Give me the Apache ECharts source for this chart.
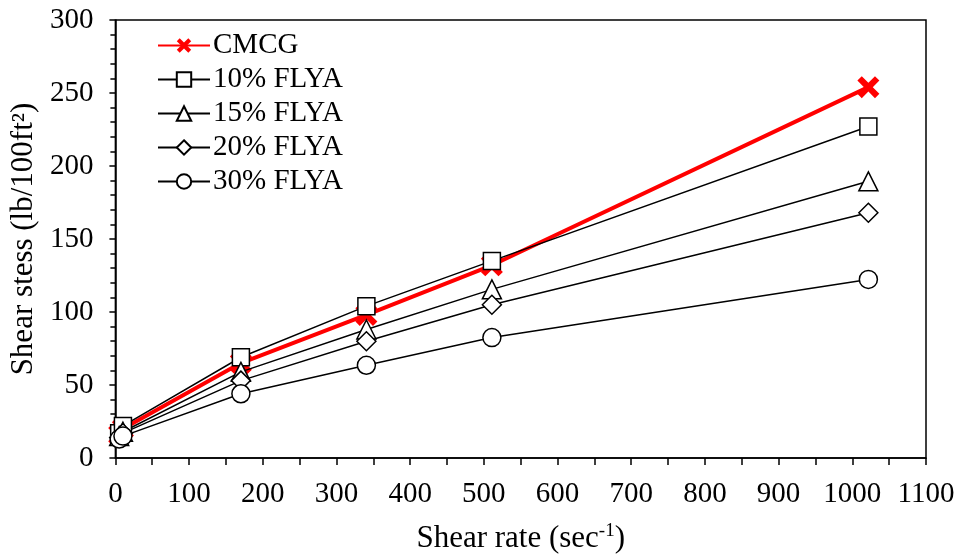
<!DOCTYPE html>
<html><head><meta charset="utf-8">
<script src="https://cdn.jsdelivr.net/npm/echarts@6/dist/echarts.min.js"></script>
<style>html,body{margin:0;padding:0;background:#fff}#c{width:963px;height:559px}</style>
</head><body><div id="c"></div>
<script>
var shearRate = [5.11, 10.22, 170.3, 340.6, 510.9, 1021.8];
var seriesNames = ['CMCG', '10% FLYA', '15% FLYA', '20% FLYA', '30% FLYA'];
var cmcg   = [16, 20, 65, 98, 132, 254];
var flya10 = [17, 22, 69, 104, 135, 227];
var flya15 = [15, 18, 59, 88, 115.5, 189.5];
var flya20 = [14, 17, 53, 80, 105, 168];
var flya30 = [13, 15, 44, 63.5, 82.5, 122.3];
var xTicks = [0, 100, 200, 300, 400, 500, 600, 700, 800, 900, 1000, 1100];
var yTicks = [0, 50, 100, 150, 200, 250, 300];

var font = 'Liberation Serif';
function pairs(v){ return shearRate.map(function(x,i){ return [x, v[i]]; }); }
var xPath = 'path://M0,2L2,0L5,3L8,0L10,2L7,5L10,8L8,10L5,7L2,10L0,8L3,5Z';
var symbols = [xPath, 'rect', 'triangle', 'diamond', 'circle'];
var sizes = [22, 17, 19, 19, 18];
var data = [cmcg, flya10, flya15, flya20, flya30];

var series = data.map(function(v, i){
  var red = i === 0;
  return {
    name: seriesNames[i], type: 'line', data: pairs(v),
    symbol: symbols[i], symbolSize: sizes[i],
    showAllSymbol: true,
    lineStyle: { color: red ? '#ff0000' : '#000', width: red ? 4 : 1.5 },
    itemStyle: red ? { color: '#ff0000', borderWidth: 0 } : { color: '#fff', borderColor: '#000', borderWidth: 1.5 },
    z: red ? 2 : 3
  };
});

var chart = echarts.init(document.getElementById('c'));
chart.setOption({
  animation: false,
  backgroundColor: '#fff',
  grid: { left: 114, right: 37, top: 20, bottom: 100, show: true, borderColor: '#000', borderWidth: 1.5 },
  legend: {
    orient: 'vertical', left: 152, top: 26, itemGap: 5, itemWidth: 52, itemHeight: 18,
    data: seriesNames,
    textStyle: { fontFamily: font, fontSize: 29, color: '#000', lineHeight: 26, padding: [0,0,0,-2] }
  },
  xAxis: {
    type: 'value', min: xTicks[0], max: xTicks[xTicks.length-1], interval: 100,
    name: '{a|Shear rate (sec}{s|-1}{a|)}', nameLocation: 'middle', nameGap: 64,
    nameTextStyle: { rich: { a: { fontFamily: font, fontSize: 31, color: '#000' }, s: { fontFamily: font, fontSize: 19, color: '#000', verticalAlign: 'top', padding: [0,0,14,0] } } },
    axisLine: { lineStyle: { color: '#000', width: 1.5 } },
    axisTick: { show: true, length: 7, lineStyle: { color: '#000', width: 1.5 } },
    minorTick: { show: true, splitNumber: 2, length: 7, lineStyle: { color: '#000', width: 1.5 } },
    splitLine: { show: false },
    axisLabel: { fontFamily: font, fontSize: 29, color: '#000', margin: 22, formatter: function(v){ return String(v); } }
  },
  yAxis: {
    type: 'value', min: yTicks[0], max: yTicks[yTicks.length-1], interval: 50,
    name: 'Shear stess (lb/100ft²)', nameLocation: 'middle', nameGap: 73,
    nameTextStyle: { fontFamily: font, fontSize: 31, color: '#000' },
    axisLine: { show: true, lineStyle: { color: '#000', width: 1.5 } },
    axisTick: { show: true, length: 6, lineStyle: { color: '#000', width: 1.5 } },
    minorTick: { show: true, splitNumber: 5, length: 5, lineStyle: { color: '#000', width: 1.5 } },
    splitLine: { show: false },
    axisLabel: { fontFamily: font, fontSize: 29, color: '#000', margin: 22, formatter: function(v){ return String(v); } }
  },
  series: series
});
</script>
</body></html>
